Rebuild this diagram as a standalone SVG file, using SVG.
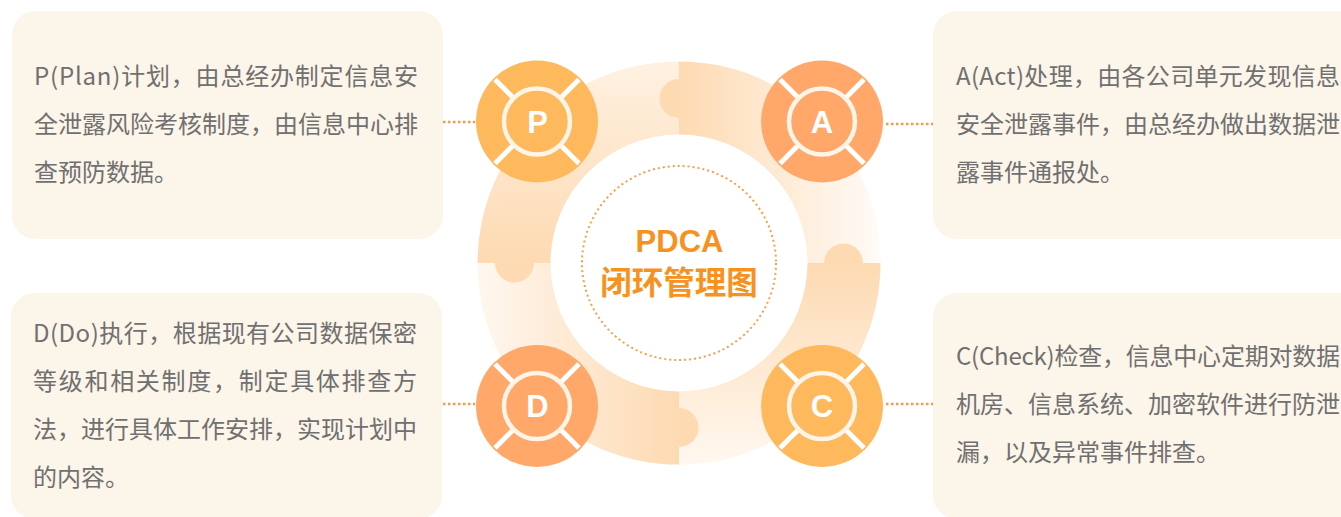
<svg xmlns="http://www.w3.org/2000/svg" width="1341" height="517" viewBox="0 0 1341 517">
  <style>
    .box { fill: #fcf5ea; }
    .body { font-family: "Noto Sans CJK SC", "Noto Sans", sans-serif; font-size: 24px; fill: #707070; }
    .conn { stroke: #f79a45; stroke-width: 2.5; stroke-dasharray: 2.5 2.5; fill: none; }
    .cut { stroke: #ffffff; stroke-width: 5; }
    .ring { stroke: #fff4e8; stroke-width: 4.5; }
    .letter { font-family: "Liberation Sans", "Open Sans", sans-serif; font-weight: bold; font-size: 31px; fill: #ffffff; text-anchor: middle; }
    .yel { fill: #ffb95d; }
    .sal { fill: #ffa86a; }
    .title { font-weight: bold; fill: #f7921f; text-anchor: middle; }
  </style>
  <defs>
    <linearGradient id="gTL" gradientUnits="userSpaceOnUse" x1="0" y1="62" x2="0" y2="263">
      <stop offset="0" stop-color="#fff1e2"/>
      <stop offset="1" stop-color="#fddab2"/>
    </linearGradient>
    <linearGradient id="gTR" gradientUnits="userSpaceOnUse" x1="679" y1="0" x2="880" y2="0">
      <stop offset="0" stop-color="#fddab2"/>
      <stop offset="1" stop-color="#fffbf7"/>
    </linearGradient>
    <linearGradient id="gBR" gradientUnits="userSpaceOnUse" x1="0" y1="263" x2="0" y2="464">
      <stop offset="0" stop-color="#fddab2"/>
      <stop offset="1" stop-color="#fff8f0"/>
    </linearGradient>
    <linearGradient id="gBL" gradientUnits="userSpaceOnUse" x1="679" y1="0" x2="478" y2="0">
      <stop offset="0" stop-color="#fddab2"/>
      <stop offset="1" stop-color="#fff7ef"/>
    </linearGradient>
  </defs>

  <rect width="1341" height="517" fill="#ffffff"/>

  <!-- cycle ring -->
  <g id="cycle-ring">
    <path d="M679,263 L477.5,263 A201.5,201.5 0 0 1 679,61.5 Z" fill="url(#gTL)"/>
    <path d="M679,263 L679,61.5 A201.5,201.5 0 0 1 880.5,263 Z" fill="url(#gTR)"/>
    <path d="M679,263 L880.5,263 A201.5,201.5 0 0 1 679,464.5 Z" fill="url(#gBR)"/>
    <path d="M679,263 L679,464.5 A201.5,201.5 0 0 1 477.5,263 Z" fill="url(#gBL)"/>
    <circle cx="679" cy="98.5" r="19.5" fill="url(#gTR)"/>
    <circle cx="843.5" cy="263" r="19.5" fill="url(#gBR)"/>
    <circle cx="679" cy="427.5" r="19.5" fill="url(#gBL)"/>
    <circle cx="514.5" cy="263" r="19.5" fill="url(#gTL)"/>
    <circle cx="679" cy="263" r="128.5" fill="#ffffff"/>
  </g>

  <g id="center">
    <circle cx="679" cy="263" r="97" fill="none" stroke="#f5a04a" stroke-width="2" stroke-dasharray="2 3"/>
    <text class="title" x="679.5" y="252" font-family="Liberation Sans, Open Sans, sans-serif" font-size="31">PDCA</text>
    <text class="title" x="679" y="294" font-family="Noto Sans CJK SC, sans-serif" font-size="31.5">闭环管理图</text>
  </g>

  <!-- connectors -->
  <g id="connectors">
    <line class="conn" x1="443" y1="122" x2="475" y2="122"/>
    <line class="conn" x1="886" y1="124" x2="933" y2="124"/>
    <line class="conn" x1="443" y1="404" x2="475" y2="404"/>
    <line class="conn" x1="886" y1="404" x2="933" y2="404"/>
  </g>

  <!-- text boxes -->
  <g id="box-plan">
    <rect class="box" x="12" y="11" width="431" height="228" rx="24"/>
    <text class="body" x="34" y="85" textLength="384" lengthAdjust="spacing">P(Plan)计划，由总经办制定信息安</text>
    <text class="body" x="34" y="133" textLength="384" lengthAdjust="spacing">全泄露风险考核制度，由信息中心排</text>
    <text class="body" x="34" y="181">查预防数据。</text>
  </g>
  <g id="box-act">
    <rect class="box" x="933" y="11" width="440" height="228" rx="24"/>
    <text class="body" x="956" y="85" textLength="384" lengthAdjust="spacing">A(Act)处理，由各公司单元发现信息</text>
    <text class="body" x="956" y="133" textLength="384" lengthAdjust="spacing">安全泄露事件，由总经办做出数据泄</text>
    <text class="body" x="956" y="181">露事件通报处。</text>
  </g>
  <g id="box-do">
    <rect class="box" x="11" y="293" width="431" height="226" rx="24"/>
    <text class="body" x="33" y="342" textLength="384" lengthAdjust="spacing">D(Do)执行，根据现有公司数据保密</text>
    <text class="body" x="33" y="390" textLength="384" lengthAdjust="spacing">等级和相关制度，制定具体排查方</text>
    <text class="body" x="33" y="438" textLength="384" lengthAdjust="spacing">法，进行具体工作安排，实现计划中</text>
    <text class="body" x="33" y="486">的内容。</text>
  </g>
  <g id="box-check">
    <rect class="box" x="933" y="293" width="440" height="226" rx="24"/>
    <text class="body" x="956" y="365" textLength="384" lengthAdjust="spacing">C(Check)检查，信息中心定期对数据</text>
    <text class="body" x="956" y="413" textLength="384" lengthAdjust="spacing">机房、信息系统、加密软件进行防泄</text>
    <text class="body" x="956" y="461">漏，以及异常事件排查。</text>
  </g>

  <!-- PDCA badges -->
  <g id="node-P" transform="translate(537,121.5)">
    <circle class="yel" r="61"/>
    <line class="cut" x1="-42" y1="-42" x2="42" y2="42"/>
    <line class="cut" x1="42" y1="-42" x2="-42" y2="42"/>
    <circle class="yel ring" r="33"/>
    <text class="letter" x="0.5" y="11">P</text>
  </g>
  <g id="node-A" transform="translate(822,121.5)">
    <circle class="sal" r="61"/>
    <line class="cut" x1="-42" y1="-42" x2="42" y2="42"/>
    <line class="cut" x1="42" y1="-42" x2="-42" y2="42"/>
    <circle class="sal ring" r="33"/>
    <text class="letter" x="0" y="11">A</text>
  </g>
  <g id="node-D" transform="translate(537,406)">
    <circle class="sal" r="61"/>
    <line class="cut" x1="-42" y1="-42" x2="42" y2="42"/>
    <line class="cut" x1="42" y1="-42" x2="-42" y2="42"/>
    <circle class="sal ring" r="33"/>
    <text class="letter" x="0.5" y="11">D</text>
  </g>
  <g id="node-C" transform="translate(822,406)">
    <circle class="yel" r="61"/>
    <line class="cut" x1="-42" y1="-42" x2="42" y2="42"/>
    <line class="cut" x1="42" y1="-42" x2="-42" y2="42"/>
    <circle class="yel ring" r="33"/>
    <text class="letter" x="0" y="11">C</text>
  </g>
</svg>
